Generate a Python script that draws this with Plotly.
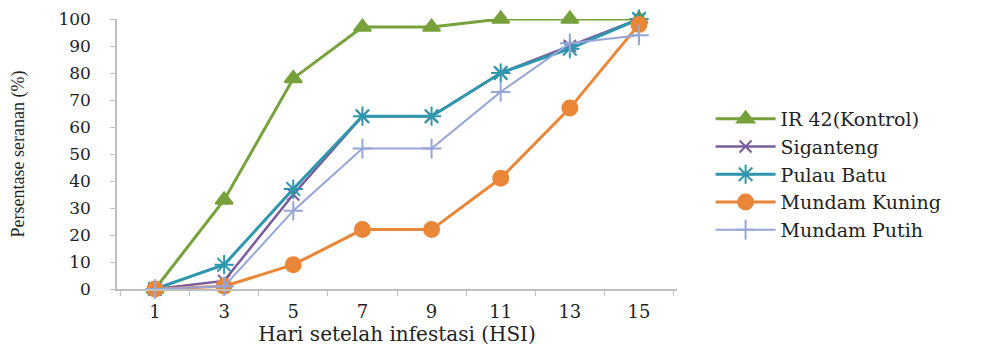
import plotly.graph_objects as go

days = ["1", "3", "5", "7", "9", "11", "13", "15"]
series_names = ["IR 42(Kontrol)", "Siganteng", "Pulau Batu", "Mundam Kuning", "Mundam Putih"]
ir42 = [0, 33, 78, 97, 97, 100, 100, 100]
siganteng = [0, 3, 35, 64, 64, 80, 90, 100]
pulau_batu = [0, 9, 37, 64, 64, 80, 89, 100]
mundam_kuning = [0, 1, 9, 22, 22, 41, 67, 98]
mundam_putih = [0, 1, 29, 52, 52, 73, 91, 94]
y_ticks = list(range(0, 101, 10))

values = [ir42, siganteng, pulau_batu, mundam_kuning, mundam_putih]
colors = ["#77A13A", "#7A5C9E", "#2E97AE", "#EA8637", "#97A6D8"]
symbols = ["triangle-up", "x-thin-open", "asterisk-open", "circle", "cross-thin-open"]
sizes = [15, 12, 16, 15, 14]
widths = [3, 2.5, 3, 3, 2]

fig = go.Figure()
for name, vals, c, s, sz, w in zip(series_names, values, colors, symbols, sizes, widths):
    fig.add_trace(go.Scatter(
        x=days, y=vals, name=name, mode="lines+markers",
        line=dict(color=c, width=w),
        marker=dict(symbol=s, size=sz, color=c, line=dict(color=c, width=2)),
        cliponaxis=False,
    ))

serif = "DejaVu Serif"
fig.update_layout(
    width=979, height=341,
    margin=dict(l=109, r=310, t=11, b=60),
    paper_bgcolor="white", plot_bgcolor="white",
    showlegend=True,
    legend=dict(x=1.06, y=0.70, xanchor="left", yanchor="top",
                font=dict(family=serif, size=19, color="#222"),
                bgcolor="rgba(0,0,0,0)", itemwidth=60, tracegroupgap=0),
    xaxis=dict(type="category", showline=True, linecolor="#BFBFBF", linewidth=1.5,
               ticks="outside", tickson="boundaries", ticklen=5, tickcolor="#BFBFBF",
               tickfont=dict(family=serif, size=18, color="#222"),
               ticklabelstandoff=6, automargin=False,
               showgrid=False, zeroline=False,
               title=dict(text="Hari setelah infestasi (HSI)",
                          font=dict(family=serif, size=20, color="#222"), standoff=2)),
    yaxis=dict(range=[0, 100], tickvals=y_ticks, showline=True, linecolor="#BFBFBF",
               linewidth=1.5, ticks="outside", ticklen=5, tickcolor="#BFBFBF",
               tickfont=dict(family=serif, size=17, color="#222"),
               ticklabelstandoff=16, ticklabeloverflow="allow", automargin=False,
               showgrid=False, zeroline=False,
               title=dict(text="Persentase seranan (%)",
                          font=dict(family="Liberation Serif", size=18, color="#222"),
                          standoff=36)),
)

fig.write_html("out.html")
